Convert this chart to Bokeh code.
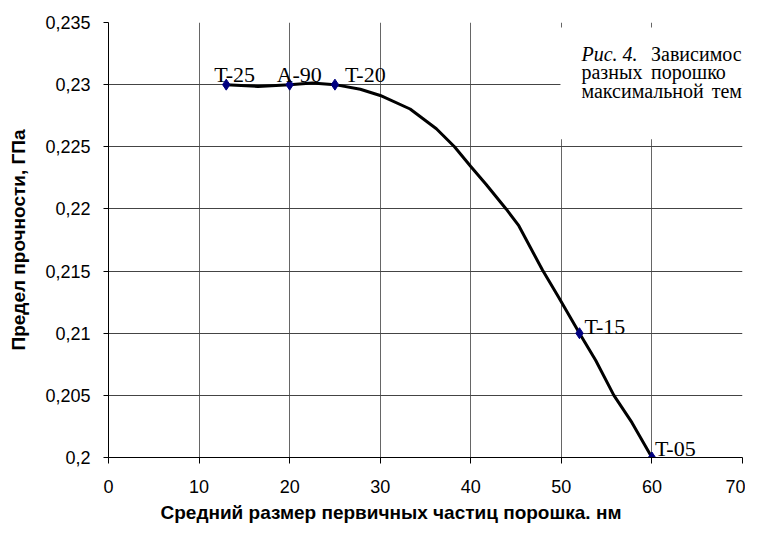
from bokeh.plotting import figure
from bokeh.models import Range1d, ColumnDataSource, Label, BoxAnnotation, Title
from bokeh.core.properties import value
from bokeh.embed import file_html
from bokeh.resources import INLINE

# --- data ---
sizes_nm = [13, 20, 25, 52, 60]
strength_gpa = [0.23, 0.23, 0.23, 0.21, 0.2]
powders = ["T-25", "A-90", "T-20", "T-15", "T-05"]

# path of the drawn (smoothed) curve
curve_x = [13, 16.5, 20, 22.5, 25, 27.8, 30, 33.3, 36.2, 38.2, 40, 41.7, 43.9,
           45.3, 47.9, 49.7, 52, 53.8, 55.8, 57.8, 60]
curve_y = [0.23, 0.22986, 0.23, 0.23013, 0.23, 0.22963, 0.22913, 0.22804, 0.22645,
           0.225, 0.22341, 0.22196, 0.22, 0.21865, 0.2151, 0.2129, 0.21, 0.2078,
           0.2050, 0.2028, 0.2]

x_ticks = [0, 10, 20, 30, 40, 50, 60, 70]
y_ticks = [0.2, 0.205, 0.21, 0.215, 0.22, 0.225, 0.23, 0.235]
y_tick_labels = ["0,2", "0,205", "0,21", "0,215", "0,22", "0,225", "0,23", "0,235"]

x_title = "Средний размер первичных частиц порошка. нм"
y_title = "Предел прочности, ГПа"
caption_lines = [["Рис. 4.", "Зависимос"], ["разных", "порошко"], ["максимальной", "тем"]]

# label offsets (pixels) – styling
label_dx = [-12, -13, 10, 5, 3]
label_dy = [-10, -10, -10, -7, -9]

p = figure(width=745, height=526, output_backend="svg", toolbar_location=None,
           x_range=Range1d(0, 70), y_range=Range1d(0.2, 0.235),
           min_border_left=108, min_border_right=3, min_border_top=22,
           min_border_bottom=68)
p.outline_line_color = None
p.background_fill_color = "white"
p.border_fill_color = "white"

p.xaxis.ticker = x_ticks
p.yaxis.ticker = y_ticks
p.yaxis.major_label_overrides = dict(zip(y_ticks, y_tick_labels))

for ax in (p.xaxis, p.yaxis):
    ax.axis_line_color = "black"
    ax.axis_line_width = 1
    ax.major_tick_line_color = "black"
    ax.minor_tick_line_color = None
    ax.major_tick_in = 0
    ax.major_label_text_font = "Liberation Sans"
    ax.major_label_text_font_size = "18px"
    ax.major_label_text_color = "black"

p.xaxis.major_tick_out = 6
p.xaxis.major_label_standoff = 16
p.yaxis.major_tick_out = 5
p.yaxis.major_label_standoff = 13

p.yaxis.axis_label = y_title
p.yaxis.axis_label_text_font = "Liberation Sans"
p.yaxis.axis_label_text_font_style = "bold"
p.yaxis.axis_label_text_font_size = "19px"
p.yaxis.axis_label_text_color = "black"
p.yaxis.axis_label_standoff = 13

p.xgrid.grid_line_color = "#666666"
p.ygrid.grid_line_color = "#444444"
p.xgrid.grid_line_width = 1
p.ygrid.grid_line_width = 1

p.line(curve_x, curve_y, line_width=3, line_color="black")
p.scatter(sizes_nm, strength_gpa, marker="diamond", size=11,
          fill_color="#000080", line_color="#000080")

src = ColumnDataSource(dict(x=sizes_nm, y=strength_gpa, name=powders,
                            dx=label_dx, dy=label_dy))
p.text(x="x", y="y", text="name", x_offset="dx", y_offset="dy", source=src,
       text_font=value("Liberation Serif"), text_font_size=value("22px"),
       text_color="black", text_align="left", text_baseline="alphabetic")

# white caption box over the upper right corner
box = BoxAnnotation(left=49.9, right=76, bottom=0.2256, top=0.2346,
                    fill_color="white", fill_alpha=1.0, line_color=None)
p.add_layout(box)

cap_x = [[52.22, 59.9], [52.22, 59.9], [52.22, 66.6]]
cap_y = [0.23249, 0.23101, 0.22952]
for i, words in enumerate(caption_lines):
    for j, w in enumerate(words):
        p.add_layout(Label(x=cap_x[i][j], y=cap_y[i], text=w,
                           text_font="Liberation Serif", text_font_size="20px",
                           text_font_style="italic" if (i == 0 and j == 0) else "normal",
                           text_color="black", text_align="left",
                           text_baseline="alphabetic"))

p.add_layout(Title(text=x_title, align="left", offset=52, standoff=8,
                   text_font="Liberation Sans", text_font_size="19px",
                   text_font_style="bold", text_color="black"), "below")

open("out.html", "w").write(file_html(p, INLINE))
